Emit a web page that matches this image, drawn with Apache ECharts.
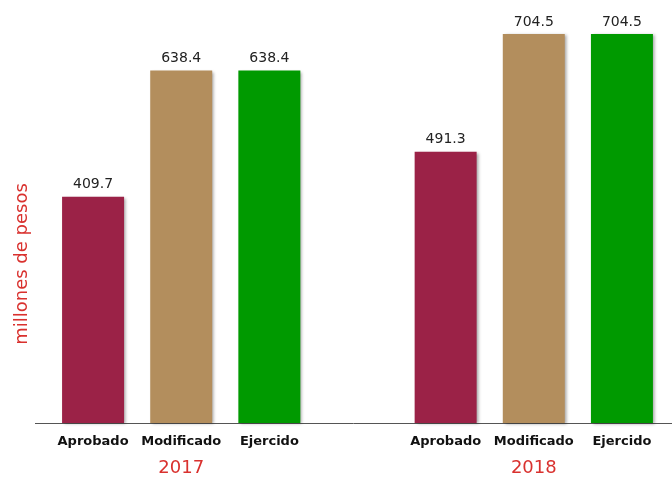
<!DOCTYPE html>
<html>
<head>
<meta charset="utf-8">
<script src="https://cdn.jsdelivr.net/npm/echarts@6/dist/echarts.min.js"></script>
<style>
  html, body { margin: 0; padding: 0; background: #fff; }
  #chart { width: 672px; height: 481px; }
</style>
</head>
<body>
<div id="chart"></div>
<script>
// data
const years = ['2017', '2018'];
const stages = ['Aprobado', 'Modificado', 'Ejercido'];
const aprobado = [409.7, 491.3];
const modificado = [638.4, 704.5];
const ejercido = [638.4, 704.5];
const stageColors = ['#9B2247', '#B38E5D', '#009A00'];

// build 7 slots: 3 bars, empty gap, 3 bars
const categories = [];
const values = [];
years.forEach((y, i) => {
    if (i > 0) { categories.push('gap'); values.push(null); }
    [aprobado, modificado, ejercido].forEach((arr, k) => {
        categories.push(stages[k] + '|' + y);
        values.push({ value: arr[i], itemStyle: { color: stageColors[k] } });
    });
});

var myChart = echarts.init(document.getElementById('chart'));

let option = {
    animation: false,
    grid: { left: 49, width: 617, top: 9, height: 414 },
    xAxis: {
        type: 'category',
        data: categories,
        axisLine: { show: false },
        axisTick: { show: false },
        axisLabel: {
            interval: 0,
            margin: 9,
            formatter: (v) => {
                if (v === 'gap') return '';
                const [s, y] = v.split('|');
                if (s === 'Modificado') return '{b|' + s + '}\n{y|' + y + '}';
                return '{b|' + s + '}';
            },
            rich: {
                b: { fontFamily: 'DejaVu Sans', fontWeight: 'bold', fontSize: 13, color: '#111', lineHeight: 20 },
                y: { fontFamily: 'DejaVu Sans', fontSize: 18, color: '#D9312E', lineHeight: 32 }
            }
        }
    },
    yAxis: {
        type: 'value',
        min: 0,
        max: 750,
        show: false,
        splitLine: { show: false }
    },
    graphic: [
        {
            type: 'line',
            shape: { x1: 35, y1: 423.5, x2: 672, y2: 423.5 },
            style: { stroke: '#555', lineWidth: 1 }
        },
        {
            type: 'text',
            x: 22, y: 264,
            rotation: Math.PI / 2,
            style: {
                text: 'millones de pesos',
                fill: '#D9312E',
                font: '18px "DejaVu Sans"',
                align: 'center',
                verticalAlign: 'middle'
            }
        }
    ],
    series: [
        {
            type: 'bar',
            data: values,
            barWidth: 62,
            itemStyle: {
                shadowColor: 'rgba(0,0,0,0.35)',
                shadowBlur: 3,
                shadowOffsetX: 2,
                shadowOffsetY: 1
            },
            label: {
                show: true,
                position: 'top',
                distance: 5,
                fontFamily: 'DejaVu Sans',
                fontSize: 14,
                color: '#222',
                formatter: (p) => p.value.toFixed(1)
            }
        }
    ]
};

option && myChart.setOption(option);
</script>
</body>
</html>
